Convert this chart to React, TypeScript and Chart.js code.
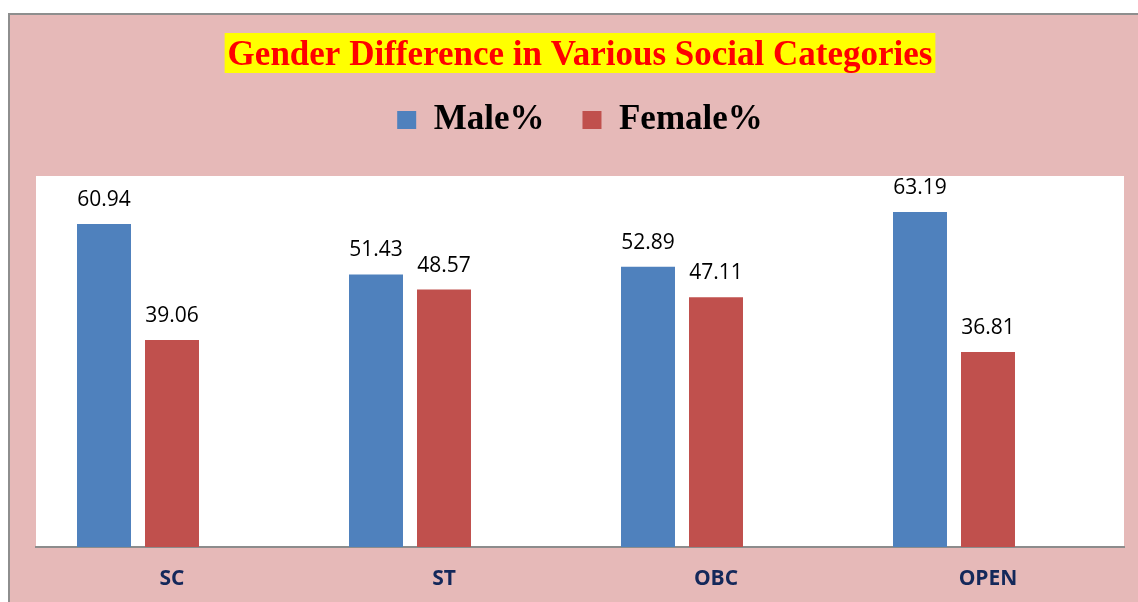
import React, { useEffect, useRef } from "react";
import { Chart, registerables } from "chart.js";

Chart.register(...registerables);

const categories = ["SC", "ST", "OBC", "OPEN"];
const malePct = [60.94, 51.43, 52.89, 63.19];
const femalePct = [39.06, 48.57, 47.11, 36.81];
const blankSeries: (number | null)[] = [null, null, null, null];
const seriesNames = ["Male%", "Female%"];
const chartTitle = "Gender Difference in Various Social Categories";

const W = 1138;
const H = 602;

const backgroundPlugin = {
  id: "bgPlugin",
  beforeDraw(chart: any) {
    const ctx = chart.ctx;
    ctx.save();
    // page white
    ctx.fillStyle = "#ffffff";
    ctx.fillRect(0, 0, W, H);
    // pink chart area
    ctx.fillStyle = "#E6B9B8";
    ctx.fillRect(8, 13, W - 8, H - 13);
    // gray outer border (top and left)
    ctx.fillStyle = "#8E8E8E";
    ctx.fillRect(8, 13, W - 8, 2);
    ctx.fillRect(8, 13, 2, H - 13);
    // white plot area
    const ca = chart.chartArea;
    ctx.fillStyle = "#ffffff";
    ctx.fillRect(ca.left, ca.top, ca.right - ca.left, ca.bottom - ca.top);
    // yellow highlight behind title
    const t = chart.options.plugins.title;
    const size = t.font.size;
    ctx.font = `bold ${size}px "Liberation Serif", "Times New Roman", serif`;
    const tw = ctx.measureText(chartTitle).width;
    const cx = (chart.chartArea.left + chart.chartArea.right) / 2;
    const tb = chart.titleBlock;
    const cy = tb.top + 53;
    ctx.fillStyle = "#FFFF00";
    ctx.fillRect(cx - tw / 2 - 3, cy - 20, tw + 6, 40);
    ctx.restore();
  },
};

const valueLabelPlugin = {
  id: "valueLabels",
  afterDatasetsDraw(chart: any) {
    const ctx = chart.ctx;
    ctx.save();
    ctx.font = '21px "Open Sans", "Liberation Sans", sans-serif';
    ctx.fillStyle = "#000000";
    ctx.textAlign = "center";
    ctx.textBaseline = "middle";
    chart.data.datasets.forEach((ds: any, di: number) => {
      const meta = chart.getDatasetMeta(di);
      meta.data.forEach((el: any, i: number) => {
        const v = ds.data[i];
        if (v === null || v === undefined) return;
        ctx.fillText(Number(v).toFixed(2), el.x, el.y - 24);
      });
    });
    ctx.restore();
  },
};

export default function App() {
  const ref = useRef<HTMLCanvasElement | null>(null);
  useEffect(() => {
    if (!ref.current) return;
    const chart = new Chart(ref.current, {
      type: "bar",
      data: {
        labels: categories,
        datasets: [
          {
            label: seriesNames[0],
            data: malePct,
            backgroundColor: "#4F81BD",
            borderWidth: 0,
          },
          {
            label: seriesNames[1],
            data: femalePct,
            backgroundColor: "#C0504D",
            borderWidth: 0,
          },
          {
            label: "",
            data: blankSeries,
            backgroundColor: "#9BBB59",
            borderWidth: 0,
          },
        ],
      },
      options: {
        responsive: false,
        animation: false,
        devicePixelRatio: 1,
        layout: { padding: { left: 36, right: 14, top: 0, bottom: -8.2 } },
        datasets: {
          bar: { categoryPercentage: 0.75, barPercentage: 0.794 },
        },
        scales: {
          x: {
            grid: { display: false, drawTicks: false },
            border: { display: true, color: "#8C8C8C", width: 2 },
            ticks: {
              padding: 19,
              color: "#14285A",
              font: { family: '"Open Sans", "Liberation Sans", sans-serif', size: 21, weight: "bold" },
            },
          },
          y: {
            display: false,
            min: 0,
            max: 70,
          },
        },
        plugins: {
          title: {
            display: true,
            text: chartTitle,
            color: "#FF0000",
            font: { family: '"Liberation Serif", "Times New Roman", serif', size: 35, weight: "bold", lineHeight: 1.2 },
            padding: { top: 35, bottom: -12.5 },
          },
          subtitle: {
            display: true,
            text: "",
            weight: 500,
            font: { size: 10, lineHeight: 1 },
            padding: { top: 18.5, bottom: 0 },
          },
          legend: {
            display: true,
            position: "top",
            labels: {
              boxWidth: 19,
              boxHeight: 18,
              padding: 38,
              color: "#000000",
              font: { family: '"Liberation Serif", "Times New Roman", serif', size: 35, weight: "bold" },
              filter: (item: any) => item.datasetIndex < 2,
            },
          },
          tooltip: { enabled: false },
        },
      },
      plugins: [backgroundPlugin, valueLabelPlugin],
    });
    return () => chart.destroy();
  }, []);
  return (
    <div style={{ position: "fixed", left: 0, top: 0, width: W, height: H }}>
      <canvas ref={ref} width={W} height={H} style={{ display: "block", width: W, height: H }} />
    </div>
  );
}
